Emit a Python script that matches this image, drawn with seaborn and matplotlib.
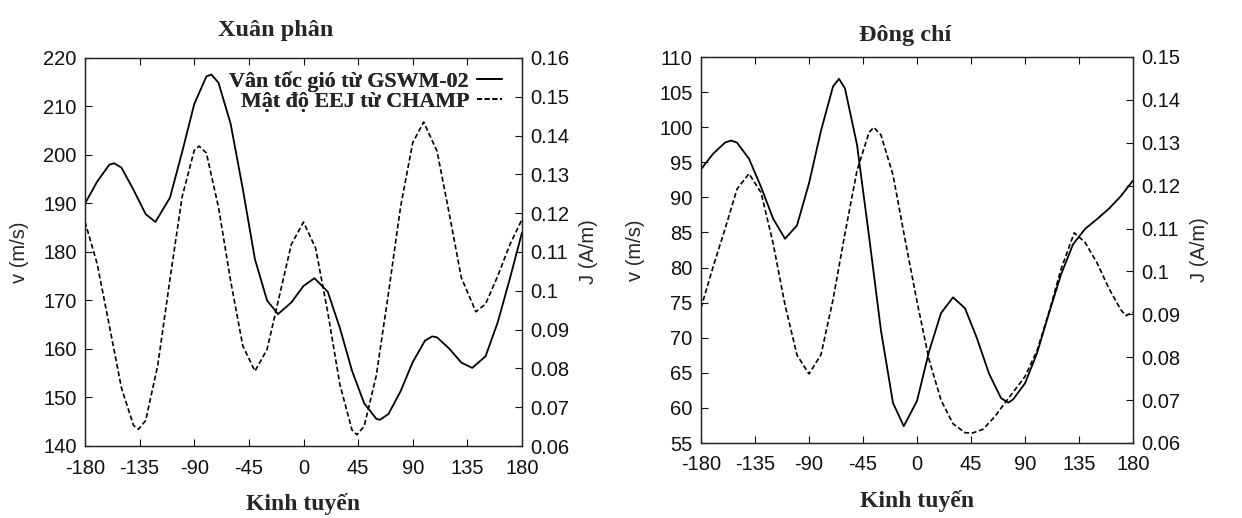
import matplotlib
matplotlib.use("Agg")
import matplotlib.pyplot as plt
import seaborn as sns
import numpy as np

# ---------------- data: Xuân phân ----------------
xp_v_lon = [-180, -170, -160, -156, -150, -140, -130, -122, -110, -100, -90, -80, -76, -70,
            -60, -50, -40, -30, -21, -10, 0, 9, 20, 30, 40, 50, 60, 63, 70, 80, 90, 100,
            106, 110, 120, 130, 139, 150, 160, 170, 180]
xp_v = [190.0, 194.5, 198.0, 198.3, 197.4, 192.8, 187.8, 186.2, 191.2, 200.6, 210.5, 216.2,
        216.6, 214.9, 206.4, 193.0, 178.5, 170.0, 167.2, 169.6, 173.0, 174.6, 171.8, 164.3,
        155.5, 148.8, 145.6, 145.4, 146.6, 151.3, 157.3, 161.7, 162.6, 162.4, 160.1, 157.2,
        156.1, 158.5, 165.5, 174.5, 184.0]

xp_j_lon = [-180, -170, -160, -150, -140, -136, -130, -120, -110, -100, -90, -86, -80, -70,
            -60, -50, -40, -30, -20, -10, 0, 10, 20, 30, 40, 44, 50, 60, 70, 80, 90, 99,
            110, 120, 130, 142, 150, 160, 170, 180]
xp_j = [0.1178, 0.1070, 0.0911, 0.0750, 0.0653, 0.0643, 0.0666, 0.0809, 0.1030, 0.1242,
        0.1362, 0.1373, 0.1355, 0.1215, 0.1025, 0.0858, 0.0793, 0.0849, 0.0985, 0.1120,
        0.1177, 0.1110, 0.0944, 0.0758, 0.0641, 0.0629, 0.0651, 0.0782, 0.0994, 0.1217,
        0.1382, 0.1435, 0.1360, 0.1200, 0.1034, 0.0946, 0.0966, 0.1038, 0.1119, 0.1184]

# ---------------- data: Đông chí ----------------
dc_v_lon = [-180, -170, -160, -155, -150, -140, -130, -120, -110, -100, -90, -80, -70, -65,
            -60, -50, -40, -30, -20, -11, 0, 10, 20, 30, 40, 50, 60, 70, 76, 80, 90, 100,
            110, 120, 130, 140, 150, 160, 170, 180]
dc_v = [94.0, 96.2, 97.8, 98.1, 97.8, 95.5, 91.5, 87.0, 84.1, 86.0, 92.0, 99.5, 105.8, 106.9,
        105.5, 97.5, 84.5, 71.0, 60.7, 57.4, 61.0, 68.0, 73.5, 75.75, 74.2, 69.9, 64.9, 61.4,
        60.75, 61.2, 63.5, 67.8, 73.5, 79.0, 83.3, 85.5, 86.9, 88.4, 90.2, 92.4]

dc_j_lon = [-180, -170, -160, -150, -140, -130, -120, -110, -100, -90, -80, -70, -60, -50,
            -40, -36, -30, -20, -10, 0, 10, 20, 30, 40, 46, 55, 65, 75, 80, 90, 100, 110,
            120, 131, 140, 150, 160, 170, 174, 180]
dc_j = [0.0915, 0.1010, 0.1099, 0.1192, 0.1228, 0.1184, 0.1067, 0.0922, 0.0805, 0.0761,
        0.0806, 0.0934, 0.1089, 0.1235, 0.1324, 0.1336, 0.1318, 0.1225, 0.1075, 0.0930,
        0.0795, 0.0700, 0.0645, 0.0624, 0.0623, 0.0632, 0.0662, 0.0700, 0.0718, 0.0755,
        0.0815, 0.0905, 0.1005, 0.1090, 0.1068, 0.1020, 0.0960, 0.0910, 0.0897, 0.0905]

x_ticks = [-180, -135, -90, -45, 0, 45, 90, 135, 180]
xp_v_ticks = [140, 150, 160, 170, 180, 190, 200, 210, 220]
xp_j_ticks = [0.06, 0.07, 0.08, 0.09, 0.1, 0.11, 0.12, 0.13, 0.14, 0.15, 0.16]
dc_v_ticks = [55, 60, 65, 70, 75, 80, 85, 90, 95, 100, 105, 110]
dc_j_ticks = [0.06, 0.07, 0.08, 0.09, 0.1, 0.11, 0.12, 0.13, 0.14, 0.15]

titles = ["Xuân phân", "Đông chí"]
xlabel = "Kinh tuyến"
ylabel_left = "v (m/s)"
ylabel_right = "J (A/m)"
legend_labels = ["Vân tốc gió từ GSWM-02", "Mật độ EEJ từ CHAMP"]

# ---------------- style ----------------
sns.set_style("ticks")
plt.rcParams["font.family"] = ["Liberation Sans", "DejaVu Sans"]
SERIF = ["Liberation Serif", "DejaVu Serif"]

W, H = 1242, 518
fig = plt.figure(figsize=(W / 100, H / 100), dpi=100)

def px_axes(x0, y0, x1, y1):
    return fig.add_axes([x0 / W, 1 - y1 / H, (x1 - x0) / W, (y1 - y0) / H])

panels = [
    dict(box=(85, 58, 522, 446), vlon=xp_v_lon, v=xp_v, jlon=xp_j_lon, j=xp_j,
         vt=xp_v_ticks, jt=xp_j_ticks, title=titles[0], tpos=(276, 36)),
    dict(box=(701, 57, 1133, 443), vlon=dc_v_lon, v=dc_v, jlon=dc_j_lon, j=dc_j,
         vt=dc_v_ticks, jt=dc_j_ticks, title=titles[1], tpos=(905, 41)),
]

TICK_FS = 14.5
for p in panels:
    ax = px_axes(*p["box"])
    ax2 = ax.twinx()
    sns.lineplot(x=p["vlon"], y=p["v"], ax=ax, color="black", linewidth=1.3,
                 label=legend_labels[0], legend=False, sort=False)
    sns.lineplot(x=p["jlon"], y=p["j"], ax=ax2, color="black", linewidth=1.2,
                 dashes=False, label=legend_labels[1], legend=False, sort=False)
    ax2.lines[0].set_dashes([3.0, 1.6])

    ax.set_xlim(-180, 180)
    ax.set_ylim(p["vt"][0], p["vt"][-1])
    ax2.set_ylim(p["jt"][0], p["jt"][-1])
    ax.set_xticks(x_ticks)
    ax.set_xticklabels([str(t) for t in x_ticks])
    ax.set_yticks(p["vt"])
    ax.set_yticklabels([str(t) for t in p["vt"]])
    ax2.set_yticks(p["jt"])
    ax2.set_yticklabels(["%g" % t for t in p["jt"]])

    ax.tick_params(axis="x", direction="in", length=5, width=0.8, top=True,
                   labelsize=TICK_FS, pad=9, colors="#111111")
    ax.tick_params(axis="y", direction="in", length=5, width=0.8, right=False,
                   labelsize=TICK_FS, pad=6, colors="#111111")
    ax2.tick_params(axis="y", direction="in", length=5, width=0.8, left=False,
                    labelsize=TICK_FS, pad=6, colors="#111111")
    for a in (ax, ax2):
        for s in a.spines.values():
            s.set_visible(True)
            s.set_linewidth(0.9)
            s.set_color("#222222")

    ax.set_xlabel(xlabel, fontfamily=SERIF, fontweight="bold", fontsize=17, labelpad=11)
    ax.set_ylabel(ylabel_left, fontsize=TICK_FS, labelpad=10)
    ax2.set_ylabel(ylabel_right, fontsize=TICK_FS, labelpad=7)

    fig.text(p["tpos"][0] / W, 1 - p["tpos"][1] / H, p["title"], ha="center",
             va="baseline", fontfamily=SERIF, fontweight="bold", fontsize=17.5)

    handles = [ax.lines[0], ax2.lines[0]]
    x0, y0, x1, y1 = p["box"]
    leg = ax2.legend(handles, legend_labels, loc="upper right",
                     bbox_to_anchor=((502 - x0) / (x1 - x0), 1 - (71 - y0) / (y1 - y0)),
                     frameon=False, markerfirst=False, handlelength=1.15,
                     handletextpad=0.35, labelspacing=0.0, borderpad=0, borderaxespad=0,
                     prop=dict(family=SERIF, weight="bold", size=15.8))

fig.savefig("out.png", dpi=100)
